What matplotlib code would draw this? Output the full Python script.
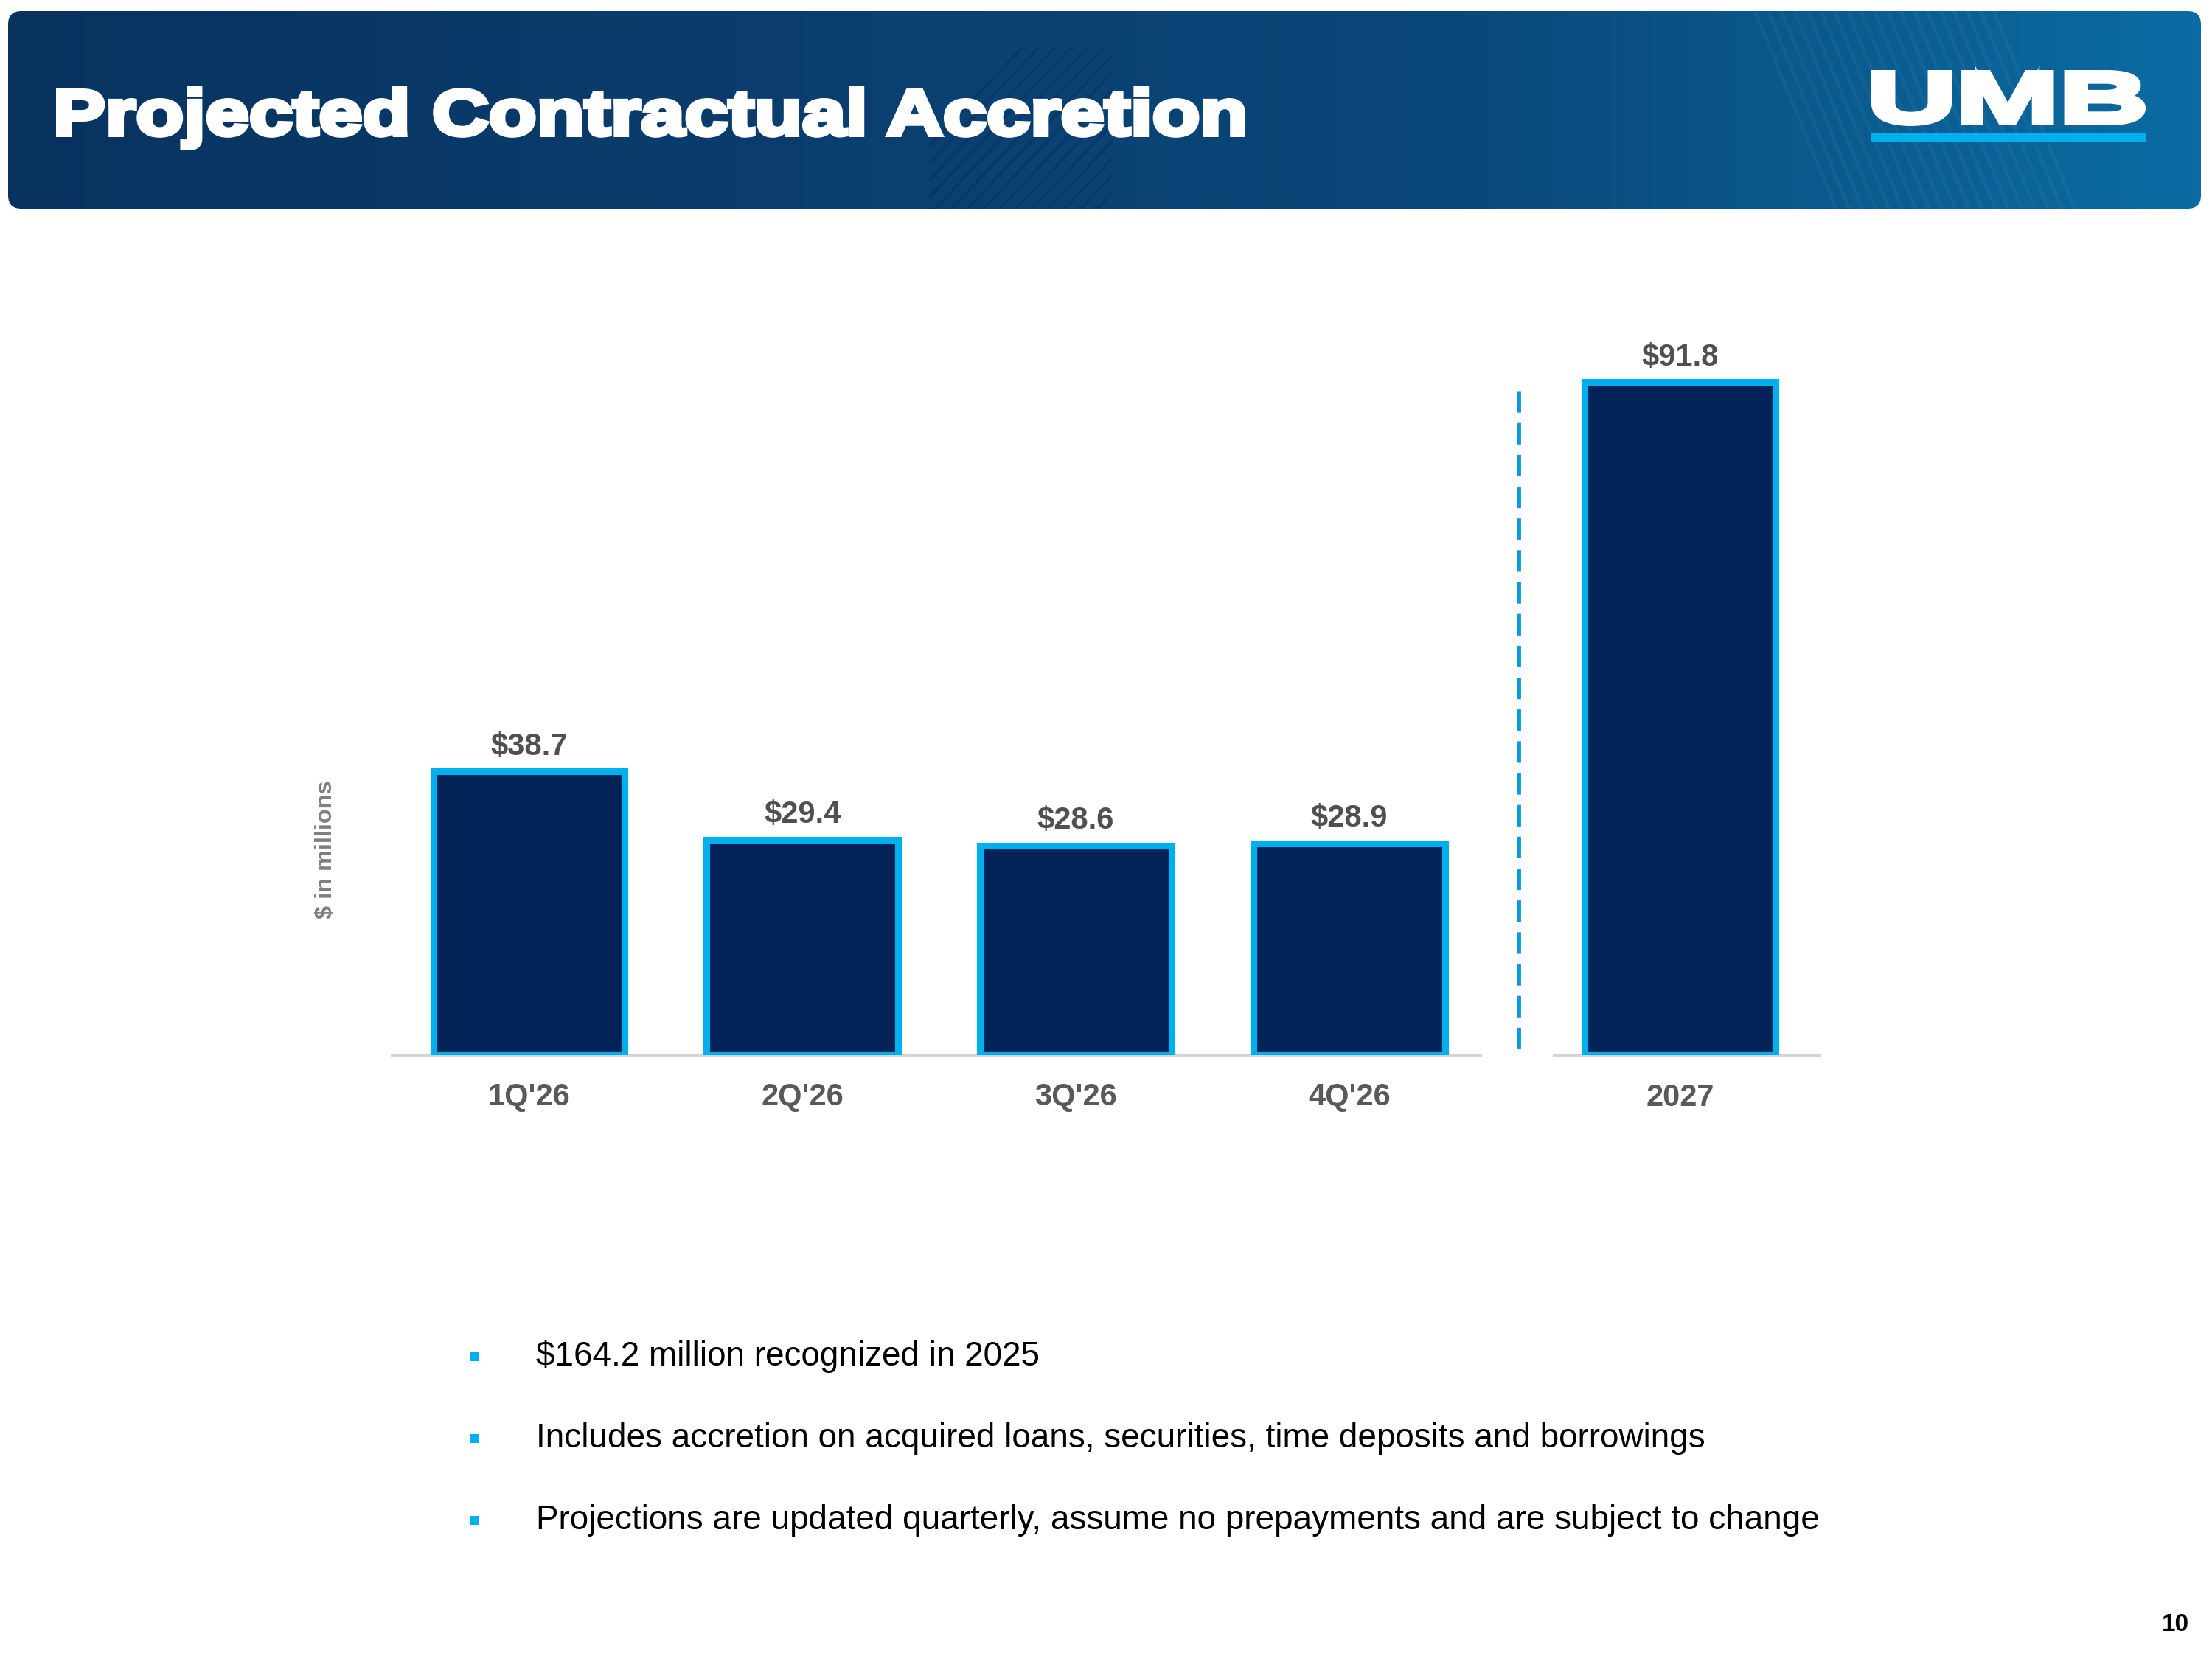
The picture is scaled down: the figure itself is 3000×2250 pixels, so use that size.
import numpy as np
import matplotlib
matplotlib.use("Agg")
import matplotlib.pyplot as plt
from matplotlib.patches import FancyBboxPatch, PathPatch, Rectangle
from matplotlib.textpath import TextPath
from matplotlib.font_manager import FontProperties
from matplotlib.colors import LinearSegmentedColormap
from matplotlib.transforms import Affine2D

plt.rcParams['font.family'] = ['Liberation Sans', 'DejaVu Sans']

# data
periods = ["1Q'26", "2Q'26", "3Q'26", "4Q'26", "2027"]
accretion = [38.7, 29.4, 28.6, 28.9, 91.8]
bullets = [
    "$164.2 million recognized in 2025",
    "Includes accretion on acquired loans, securities, time deposits and borrowings",
    "Projections are updated quarterly, assume no prepayments and are subject to change",
]
title = "Projected Contractual Accretion"

navy = '#012358'
cyan = '#00b0ec'
label_gray = '#505050'
bold_font = FontProperties(family='Liberation Sans', weight='bold')

fig = plt.figure(figsize=(10, 7.5), dpi=300)

# background axes in pixel coordinates for the slide decorations
bg = fig.add_axes([0, 0, 1, 1], zorder=0)
bg.axis('off')


def heavy_text(s, x0, x1, cap_top, baseline, lw):
    # bold text path stretched so its caps fill the given box, stroked for extra weight
    tp = TextPath((0, 0), s, size=100, prop=bold_font)
    cap = TextPath((0, 0), "H", size=100, prop=bold_font).get_extents().height
    ext = tp.get_extents()
    h = lw * 300 / 72 / 2
    sx = (x1 - x0 - 2 * h) / ext.width
    sy = (baseline - cap_top - 2 * h) / cap
    tr = Affine2D().translate(-ext.x0, 0).scale(sx, -sy).translate(x0 + h, baseline - h)
    bg.add_patch(PathPatch(tr.transform_path(tp), fc='white', ec='white', lw=lw,
                           joinstyle='miter', zorder=3))


# header band with gradient
hdr = FancyBboxPatch((11, 15), 2974, 268, boxstyle="round,pad=0,rounding_size=18",
                     fc='none', ec='none')
bg.add_patch(hdr)
grad = LinearSegmentedColormap.from_list('hdr', ['#08335f', '#0a3d6e', '#0b487a', '#0a6ca3'])
g = np.linspace(0, 1, 512).reshape(1, -1)
im = bg.imshow(g, cmap=grad, extent=[11, 2985, 283, 15], aspect='auto', zorder=1)
im.set_clip_path(hdr)
# faint diagonal stripes
stripe_box = Rectangle((1260, 64), 250, 219, fc='none', ec='none')
bg.add_patch(stripe_box)
for x0 in np.arange(1180, 1560, 22):
    ln, = bg.plot([x0, x0 + 220], [283, 50], color='#05274d', alpha=0.3, lw=1.0, zorder=2)
    ln.set_clip_path(stripe_box)
for x0 in np.arange(2380, 2720, 18):
    ln, = bg.plot([x0, x0 + 110], [15, 283], color='white', alpha=0.04, lw=1.2, zorder=2)
    ln.set_clip_path(hdr)
bg.set_xlim(0, 3000)
bg.set_ylim(2250, 0)

heavy_text(title, 76, 1689, 120, 186, 1.5)

# UMB logo
heavy_text("UMB", 2538, 2910, 95, 170, 2.0)
bg.add_patch(Rectangle((2538, 180), 372, 13, fc=cyan, ec='none', zorder=3))

# y label
bg.text(442, 1152, "$ in millions", rotation=90, color='#7f7f7f', fontsize=7.8,
        fontweight='bold', ha='center', va='center')

# bullets
for i, b in enumerate(bullets):
    y = 1840 + i * 111
    bg.plot([643], [y], marker='s', ms=2.8, color=cyan, mec='none')
    bg.text(727, y, b, fontsize=11, color='black', va='center', ha='left')

bg.text(2950, 2204, "10", fontsize=8, fontweight='bold', color='black', ha='center', va='center')

# chart
ax = fig.add_axes([0.1773, 0.364, 0.6453, 0.442], zorder=1)
ax.patch.set_alpha(0)
xpos = [0, 1, 2, 3, 4.21]
ax.bar(xpos, accretion, width=0.70, color=navy, edgecolor=cyan, linewidth=2.2, zorder=3)
for xp, v in zip(xpos, accretion):
    ax.annotate(f"${v:.1f}", (xp, v), xytext=(0, 8), textcoords='offset points',
                ha='center', va='center', fontsize=10, fontweight='bold', color=label_gray)

ax.set_xlim(-0.5, 4.72)
ax.set_ylim(0, 100)
ax.set_xticks(xpos)
ax.set_xticklabels(periods, fontsize=10, fontweight='bold', color='#595959')
ax.tick_params(axis='x', length=0, pad=9)
ax.set_yticks([])
for s in ax.spines.values():
    s.set_visible(False)

# split baseline and divider
ax.plot([-0.5, 3.48], [0, 0], color='#d4d4d4', lw=1.0, zorder=2, clip_on=False)
ax.plot([3.75, 4.72], [0, 0], color='#d4d4d4', lw=1.0, zorder=2, clip_on=False)
ax.plot([3.62, 3.62], [0.8, 91.8], color='#0d9ad8', lw=1.4, dashes=(5, 2.4), zorder=2)

fig.savefig("out.png", dpi=300)
